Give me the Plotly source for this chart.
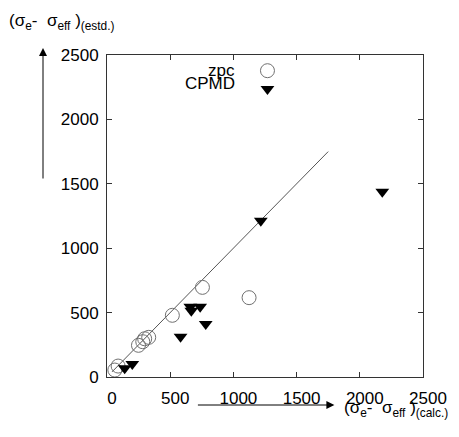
import plotly.graph_objects as go

# data
zpc_x = [62, 88, 249, 283, 298, 330, 517, 755, 1124]
zpc_y = [54, 85, 246, 274, 297, 308, 479, 696, 616]
cpmd_x = [140, 200, 582, 659, 667, 737, 781, 1217, 2178]
cpmd_y = [67, 101, 313, 546, 515, 546, 411, 1213, 1439]
line_x = [40, 1750]
line_y = [40, 1750]
tick_vals = [0, 500, 1000, 1500, 2000, 2500]
tick_text = ["0", "500", "1000", "1500", "2000", "2500"]
legend_names = ["zpc", "CPMD"]

FONT = "Liberation Sans, Arial, Helvetica, sans-serif"
W, H = 459, 437
L, R, T, B = 107, 31, 55, 60
PW, PH = W - L - R, H - T - B


def px(x):
    return (x - L) / PW


def py(y):
    return (H - B - y) / PH


fig = go.Figure()
fig.add_trace(go.Scatter(x=line_x, y=line_y, mode="lines",
                         line=dict(color="#555555", width=1), showlegend=False))
fig.add_trace(go.Scatter(x=zpc_x, y=zpc_y, mode="markers", name="zpc",
                         marker=dict(symbol="circle-open", size=14,
                                     color="#707070", line=dict(width=1, color="#707070")),
                         showlegend=False))
fig.add_trace(go.Scatter(x=cpmd_x, y=cpmd_y, mode="markers", name="CPMD",
                         marker=dict(symbol="triangle-down", size=12, color="black",
                                     line=dict(width=0)),
                         showlegend=False))

# legend keys (on an overlay axis in [0,1] units)
key_x = px(270)
key_y = [py(70.7), py(89)]
fig.add_trace(go.Scatter(x=[key_x], y=[key_y[0]], xaxis="x2", yaxis="y2", mode="markers",
                         marker=dict(symbol="circle-open", size=14, color="#707070",
                                     line=dict(width=1, color="#707070")), showlegend=False))
fig.add_trace(go.Scatter(x=[key_x], y=[key_y[1]], xaxis="x2", yaxis="y2", mode="markers",
                         marker=dict(symbol="triangle-down", size=12, color="black",
                                     line=dict(width=0)), showlegend=False))

axis_common = dict(range=[0, 2500], tickvals=tick_vals, ticktext=tick_text,
                   ticks="inside", ticklen=5, tickcolor="#333333", tickwidth=1,
                   showline=True, linecolor="#333333", linewidth=1, mirror="ticks",
                   showgrid=False, zeroline=False,
                   tickfont=dict(family=FONT, size=17, color="black"))

fig.update_layout(
    width=W, height=H,
    margin=dict(l=L, r=R, t=T, b=B),
    paper_bgcolor="white", plot_bgcolor="white",
    xaxis=dict(**axis_common, ticklabelstandoff=6, ticklabelshift=5),
    yaxis=dict(**axis_common, ticklabelstandoff=4),
    xaxis2=dict(overlaying="x", range=[0, 1], visible=False),
    yaxis2=dict(overlaying="y", range=[0, 1], visible=False),
    showlegend=False,
)

ann = []
ann.append(dict(text="(σ<sub>e</sub>-  σ<sub>eff</sub> )<sub>(estd.)</sub>",
                xref="paper", yref="paper", x=px(5), y=py(22),
                xanchor="left", yanchor="middle",
                showarrow=False, font=dict(family=FONT, size=17, color="black")))
ann.append(dict(text="(σ<sub>e</sub>-  σ<sub>eff</sub> )<sub>(calc.)</sub>",
                xref="paper", yref="paper", x=px(346), y=py(409),
                xanchor="left", yanchor="middle",
                showarrow=False, font=dict(family=FONT, size=17, color="black")))
legend_text_y = [py(70), py(83)]
for i, nm in enumerate(legend_names):
    ann.append(dict(text=nm, xref="paper", yref="paper", x=px(239),
                    y=legend_text_y[i], xanchor="right", yanchor="middle",
                    showarrow=False, font=dict(family=FONT, size=17, color="black")))
# arrows
ann.append(dict(text="", xref="paper", yref="paper", x=px(42), y=py(48),
                axref="pixel", ayref="pixel", ax=0, ay=132,
                showarrow=True, arrowhead=2, arrowsize=1.6, arrowwidth=1, arrowcolor="black"))
ann.append(dict(text="", xref="paper", yref="paper", x=px(338), y=py(405),
                axref="pixel", ayref="pixel", ax=-138, ay=0,
                showarrow=True, arrowhead=2, arrowsize=1.6, arrowwidth=1, arrowcolor="black"))
fig.update_layout(annotations=ann)

fig.write_html("out.html")
